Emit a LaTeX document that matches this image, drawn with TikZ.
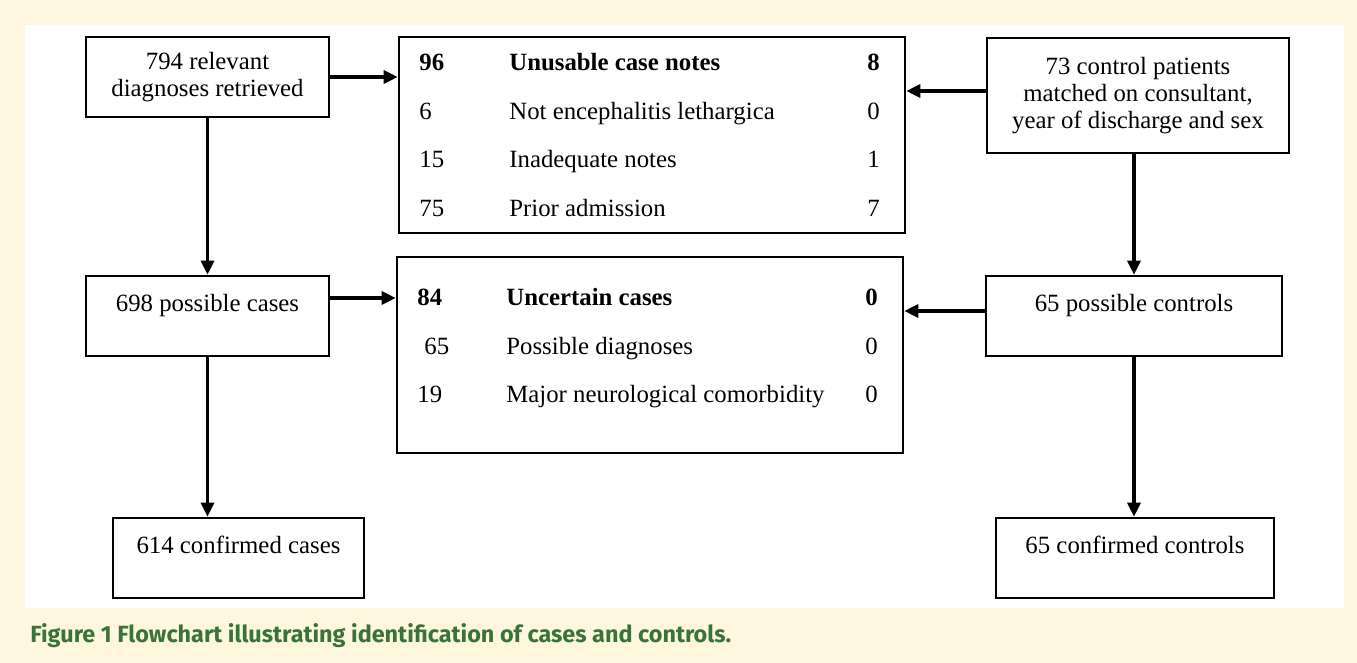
\documentclass[tikz,border=0pt]{standalone}
\usepackage{fontspec}
\setmainfont{Liberation Serif}
\setsansfont{Fira Sans}
\usetikzlibrary{arrows.meta,positioning}
\definecolor{paper}{RGB}{254,247,222}
\definecolor{capgreen}{RGB}{56,116,56}
\tikzset{
  box/.style={draw, line width=1.3pt, inner sep=0pt, align=center,
    font=\fontsize{12.4}{13.6}\selectfont},
  tab/.style={anchor=base west, inner sep=0pt, font=\fontsize{12.4}{13.6}\selectfont},
  flow/.style={-{Triangle[length=7pt,width=6.5pt]}, line width=1.6pt},
}

\begin{document}
\begin{tikzpicture}[x=0.5pt,y=-0.5pt]
  % frame
  \fill[paper] (0,0) rectangle (1357,663);
  \fill[white] (25,25) rectangle (1344,608);
  \useasboundingbox (0,0) rectangle (1357,663);

  % cases
  \node[box, minimum width=121.5pt, minimum height=40pt] (retrieved) at (207.5,77)
    {794 relevant\\diagnoses retrieved};
  \node[box, minimum width=121.5pt, minimum height=40pt] (possible) at (207.5,316)
    {698 possible cases\\~};
  \node[box, minimum width=125.5pt, minimum height=40pt] (confirmed) at (238.5,558)
    {614 confirmed cases\\~};

  % controls
  \node[box, minimum width=151pt, minimum height=57.5pt] (matched) at (1138,95.5)
    {73 control patients\\matched on consultant,\\year of discharge and sex};
  \node[box, minimum width=148pt, minimum height=40pt] (possiblectl) at (1134,316)
    {65 possible controls\\~};
  \node[box, minimum width=139pt, minimum height=40pt] (confirmedctl) at (1135,558)
    {65 confirmed controls\\~};

  % exclusions
  \node[box, minimum width=253pt, minimum height=98pt] (unusable) at (652,135) {};
  \node[tab] (unusabletab) at (419,71) {\begin{tabular}[t]{@{}p{45pt}@{}p{179pt}@{}r@{}}
    \textbf{96} & \textbf{Unusable case notes} & \textbf{8}\\[10.6pt]
    6 & Not encephalitis lethargica & 0\\[10.6pt]
    15 & Inadequate notes & 1\\[10.6pt]
    75 & Prior admission & 7
  \end{tabular}};

  \node[box, minimum width=253pt, minimum height=98pt] (uncertain) at (650,355) {};
  \node[tab] (uncertaintab) at (417,306) {\begin{tabular}[t]{@{}p{44.5pt}@{}p{179.5pt}@{}r@{}}
    \textbf{84} & \textbf{Uncertain cases} & \textbf{0}\\[10.6pt]
    \hspace*{3.5pt}65 & Possible diagnoses & 0\\[10.6pt]
    19 & Major neurological comorbidity & 0
  \end{tabular}};

  % arrows
  \draw[flow] (retrieved.east) -- (retrieved.east -| unusable.west);
  \draw[flow] ([yshift=2.25pt]matched.west) -- ([yshift=2.25pt]matched.west -| unusable.east);
  \draw[flow] (retrieved) -- (possible);
  \draw[flow] (matched.south -| possiblectl.north) -- (possiblectl.north);
  \draw[flow] ([yshift=9pt]possible.east) -- ([yshift=9pt]possible.east -| uncertain.west);
  \draw[flow] ([yshift=2.5pt]possiblectl.west) -- ([yshift=2.5pt]possiblectl.west -| uncertain.east);
  \draw[flow] (possible.south) -- (possible.south |- confirmed.north);
  \draw[flow] (possiblectl.south) -- (possiblectl.south |- confirmedctl.north);

  \node[anchor=base west, inner sep=0pt, text=capgreen,
    font=\sffamily\bfseries\fontsize{11.7}{14}\selectfont] (caption) at (30,643)
    {Figure 1 Flowchart illustrating identification of cases and controls.};
\end{tikzpicture}
\end{document}
